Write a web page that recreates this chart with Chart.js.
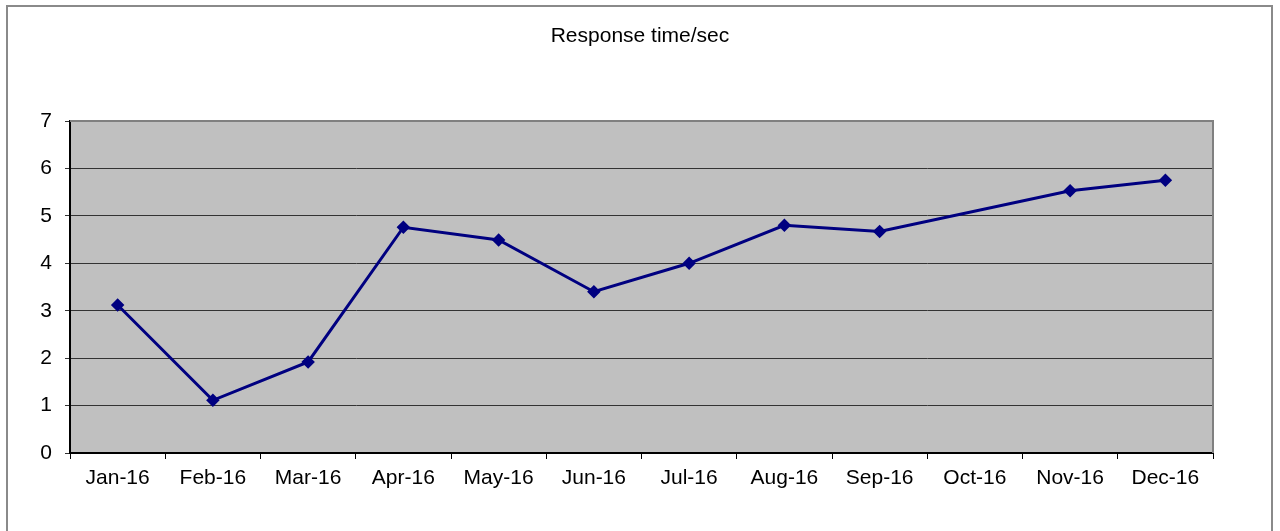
<!DOCTYPE html>
<html>
<head>
<meta charset="utf-8">
<script src="https://cdn.jsdelivr.net/npm/chart.js@4"></script>
<style>
  html, body { margin: 0; padding: 0; background: #fff; }
  #wrap { width: 1280px; height: 531px; }
</style>
</head>
<body>
<div id="wrap"><canvas id="chart" width="1280" height="531"></canvas></div>
<script>
const months = ['Jan-16', 'Feb-16', 'Mar-16', 'Apr-16', 'May-16', 'Jun-16',
                'Jul-16', 'Aug-16', 'Sep-16', 'Oct-16', 'Nov-16', 'Dec-16'];
const responseTimes = [3.12, 1.11, 1.92, 4.76, 4.49, 3.40, 4.00, 4.80, 4.67, null, 5.53, 5.75];
const yTicks = [0, 1, 2, 3, 4, 5, 6, 7];

const FONT = "'Liberation Sans', Arial, sans-serif";

// grey plot background, grey top/right border and the outer frame
const frame = {
    id: 'frame',
    beforeDraw(chart) {
        const { ctx, chartArea: a } = chart;
        ctx.save();
        ctx.fillStyle = '#c0c0c0';
        ctx.fillRect(a.left, a.top, a.right - a.left, a.bottom - a.top);
        ctx.restore();
    },
    afterDraw(chart) {
        const { ctx, chartArea: a } = chart;
        ctx.save();
        ctx.strokeStyle = '#808080';
        ctx.lineWidth = 2;
        ctx.beginPath();
        ctx.moveTo(a.left, a.top);
        ctx.lineTo(a.right, a.top);
        ctx.lineTo(a.right, a.bottom);
        ctx.stroke();
        ctx.strokeStyle = '#8a8a8a';
        ctx.beginPath();
        ctx.moveTo(7, 540);
        ctx.lineTo(7, 6);
        ctx.lineTo(1272, 6);
        ctx.lineTo(1272, 540);
        ctx.stroke();
        ctx.restore();
    }
};

new Chart(document.getElementById('chart'), {
    type: 'line',
    data: {
        labels: months,
        datasets: [{
            label: 'Response time/sec',
            data: responseTimes,
            borderColor: '#000080',
            backgroundColor: '#000080',
            borderWidth: 3,
            pointStyle: 'rectRot',
            pointRadius: 5,
            pointHoverRadius: 5,
            pointBorderWidth: 2.5,
            spanGaps: true,
            tension: 0
        }]
    },
    options: {
        responsive: false,
        animation: false,
        layout: { padding: 0 },
        plugins: {
            legend: { display: false },
            tooltip: { enabled: false },
            title: {
                display: true,
                text: 'Response time/sec',
                color: '#000',
                font: { family: FONT, size: 21, weight: 'normal' },
                padding: { top: 24, bottom: 71.8 }
            }
        },
        scales: {
            x: {
                offset: true,
                afterFit: s => { s.height = 78; },
                grid: {
                    offset: true,
                    drawOnChartArea: false,
                    drawTicks: true,
                    tickLength: 6,
                    color: '#000'
                },
                border: { color: '#000', width: 2 },
                ticks: {
                    color: '#000',
                    padding: 7,
                    maxRotation: 0,
                    font: { family: FONT, size: 21 }
                }
            },
            y: {
                min: 0,
                max: 7,
                afterFit: s => { s.width = 70; },
                afterBuildTicks: s => { s.ticks = yTicks.map(v => ({ value: v })); },
                grid: {
                    color: '#333',
                    lineWidth: 1,
                    tickLength: 5,
                    drawTicks: true
                },
                border: { color: '#000', width: 2 },
                ticks: {
                    color: '#000',
                    padding: 13,
                    font: { family: FONT, size: 21 }
                }
            },
            // empty right-hand spacer so the title stays centred on the page
            spacer: {
                position: 'right',
                min: 0,
                max: 7,
                afterFit: s => { s.width = 67; },
                grid: { drawOnChartArea: false, drawTicks: false },
                border: { display: false },
                ticks: { display: false }
            }
        }
    },
    plugins: [frame]
});
</script>
</body>
</html>
